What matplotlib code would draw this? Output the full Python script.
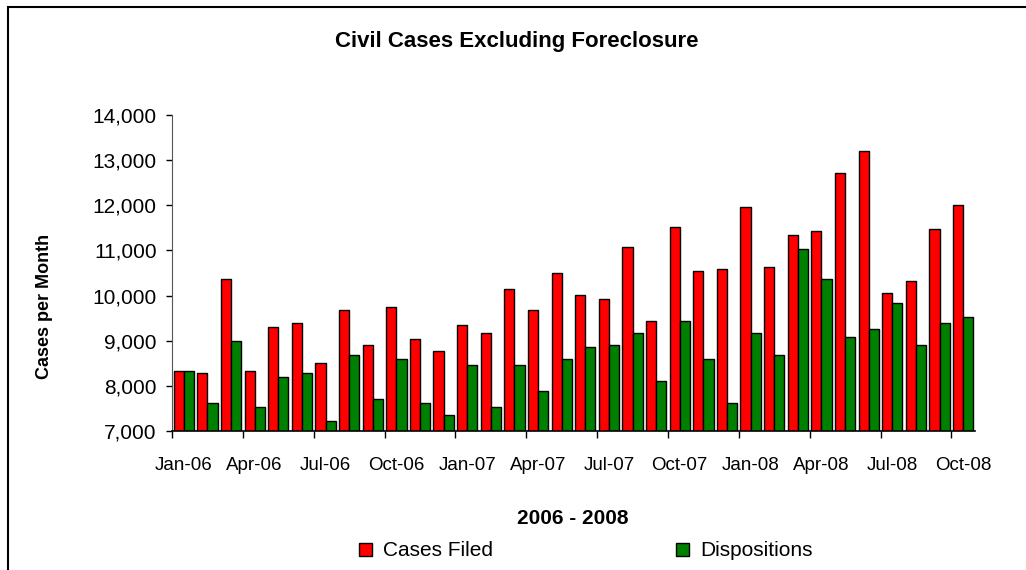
import matplotlib
matplotlib.use("Agg")
import matplotlib.pyplot as plt
import numpy as np
from matplotlib.patches import Rectangle
from matplotlib.ticker import FixedLocator, StrMethodFormatter

plt.rcParams['font.family'] = ['Liberation Sans', 'DejaVu Sans']

# ---------- data ----------
months = ["Jan-06", "Feb-06", "Mar-06", "Apr-06", "May-06", "Jun-06",
          "Jul-06", "Aug-06", "Sep-06", "Oct-06", "Nov-06", "Dec-06",
          "Jan-07", "Feb-07", "Mar-07", "Apr-07", "May-07", "Jun-07",
          "Jul-07", "Aug-07", "Sep-07", "Oct-07", "Nov-07", "Dec-07",
          "Jan-08", "Feb-08", "Mar-08", "Apr-08", "May-08", "Jun-08",
          "Jul-08", "Aug-08", "Sep-08", "Oct-08"]

cases_filed = [8330, 8285, 10370, 8330, 9300, 9400,
               8505, 9670, 8905, 9750, 9045, 8780,
               9350, 9170, 10150, 9670, 10510, 10010,
               9925, 11085, 9445, 11520, 10545, 10590,
               11960, 10630, 11340, 11430, 12720, 13200,
               10065, 10330, 11480, 12015]

dispositions = [8330, 7620, 8994, 7540, 8200, 8285,
                7220, 8690, 7710, 8600, 7620, 7360,
                8460, 7540, 8460, 7890, 8600, 8870,
                8910, 9170, 8110, 9445, 8600, 7620,
                9170, 8690, 11030, 10370, 9090, 9260,
                9835, 8910, 9400, 9535]

# ---------- figure ----------
W, H = 1026, 570
fig = plt.figure(figsize=(W / 100, H / 100), dpi=100)
ax = fig.add_axes([172 / W, 1 - 431 / H, 803 / W, 316 / H])

x = np.arange(len(months))
w = 0.43
ax.bar(x - w / 2, cases_filed, width=w, color="#FF0000", edgecolor="black",
       linewidth=1.0, label="Cases Filed")
ax.bar(x + w / 2, dispositions, width=w, color="#008000", edgecolor="black",
       linewidth=1.0, label="Dispositions")

ax.set_xlim(-0.5, len(months) - 0.5)
ax.set_ylim(7000, 14000)
ax.set_yticks(range(7000, 14001, 1000))
ax.yaxis.set_major_formatter(StrMethodFormatter("{x:,.0f}"))
ax.tick_params(axis="y", length=4, width=1, pad=7, labelsize=15)

# ticks on month boundaries every quarter, labels at month centres
ax.xaxis.set_major_locator(FixedLocator(x[::3] - 0.5))
ax.xaxis.set_minor_locator(FixedLocator(x[::3]))
ax.set_xticklabels([], minor=False)
ax.set_xticklabels(months[::3], minor=True)
ax.tick_params(axis="x", which="major", length=5, width=1)
ax.tick_params(axis="x", which="minor", length=0, pad=19, labelsize=13.5)

for s in ["top", "right"]:
    ax.spines[s].set_visible(False)
ax.spines["left"].set_color("#555555")
ax.spines["bottom"].set_linewidth(1.2)

fig.text(517 / W, 1 - 42 / H, "Civil Cases Excluding Foreclosure",
         ha="center", va="center", fontsize=16, fontweight="bold")
fig.text(45 / W, 1 - 306 / H, "Cases per Month", rotation=90,
         ha="center", va="center", fontsize=13, fontweight="bold")
fig.text(573 / W, 1 - 518 / H, "2006 - 2008",
         ha="center", va="center", fontsize=15, fontweight="bold")

fig.legend(loc="center", bbox_to_anchor=(586 / W, 1 - 551 / H), ncol=2,
           frameon=False, fontsize=15, handlelength=0.6, handleheight=0.6,
           handletextpad=0.55, columnspacing=8.8, borderpad=0)

# outer frame (left and top edges visible)
fig.patches.append(Rectangle((8 / W, -0.1), 1.2, 1 - 7 / H + 0.1,
                             transform=fig.transFigure, fill=False,
                             edgecolor="black", linewidth=1.5))

fig.savefig("out.png", dpi=100)
